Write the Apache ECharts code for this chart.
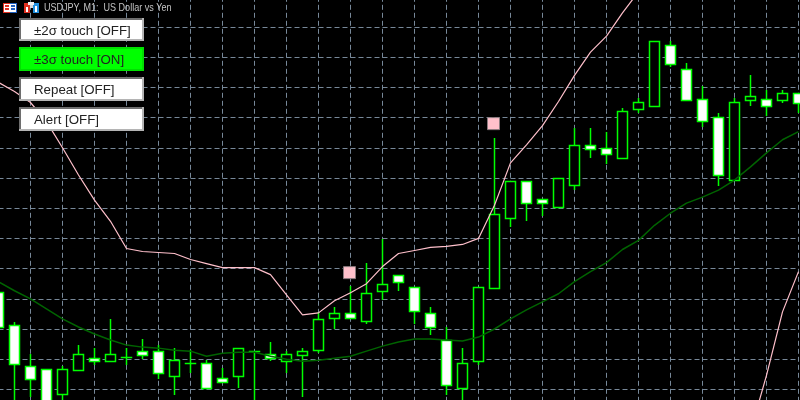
<!DOCTYPE html>
<html>
<head>
<meta charset="utf-8">
<title>USDJPY M1</title>
<style>
  html, body { margin: 0; padding: 0; background: #000; }
  #main { width: 800px; height: 400px; }
</style>
<script src="https://cdn.jsdelivr.net/npm/echarts@6/dist/echarts.min.js"></script>
</head>
<body>
<div id="main"></div>
<script>
const opens = [108.126,108.093,108.053,108.050,108.025,108.049,108.061,108.058,108.062,108.068,
  108.068,108.043,108.056,108.056,108.041,108.043,108.068,108.065,108.058,108.064,
  108.069,108.100,108.105,108.097,108.127,108.143,108.131,108.105,108.079,108.031,
  108.058,108.130,108.200,108.237,108.219,108.211,108.233,108.272,108.269,108.259,
  108.308,108.311,108.372,108.348,108.318,108.300,108.238,108.317,108.318,108.317,108.324];
const closes = [108.091,108.055,108.040,108.010,108.050,108.065,108.058,108.065,108.062,108.064,
  108.046,108.059,108.056,108.031,108.037,108.071,108.068,108.061,108.065,108.068,
  108.099,108.105,108.100,108.125,108.134,108.136,108.107,108.091,108.034,108.056,
  108.131,108.204,108.237,108.215,108.215,108.240,108.272,108.268,108.263,108.306,
  108.315,108.376,108.353,108.317,108.296,108.242,108.315,108.321,108.311,108.324,108.314];
const highs = [108.126,108.096,108.065,108.050,108.053,108.074,108.071,108.099,108.071,108.080,
  108.074,108.071,108.069,108.059,108.051,108.071,108.068,108.077,108.068,108.071,
  108.106,108.111,108.132,108.155,108.179,108.143,108.131,108.111,108.091,108.071,
  108.131,108.279,108.237,108.237,108.219,108.240,108.289,108.289,108.285,108.309,
  108.319,108.376,108.376,108.354,108.331,108.304,108.319,108.342,108.327,108.327,108.324];
const lows = [108.091,108.015,108.023,108.010,108.017,108.049,108.055,108.058,108.055,108.061,
  108.041,108.025,108.047,108.031,108.037,108.032,108.015,108.059,108.047,108.023,
  108.067,108.090,108.100,108.095,108.119,108.128,108.095,108.085,108.025,108.017,
  108.055,108.130,108.192,108.198,108.203,108.211,108.229,108.260,108.254,108.259,
  108.305,108.311,108.351,108.317,108.291,108.233,108.238,108.312,108.302,108.315,108.305];

// +3 sigma band, leaves the top of the window after bar 40
const upperBand = [108.335,108.326,108.315,108.296,108.270,108.243,108.218,108.197,108.170,108.167,
  108.166,108.165,108.159,108.155,108.151,108.151,108.151,108.144,108.124,108.104,
  108.106,108.118,108.126,108.135,108.152,108.165,108.168,108.171,108.172,108.174,
  108.180,108.213,108.255,108.273,108.292,108.316,108.342,108.365,108.381,108.404,
  108.425,null,null,null,null,null,null,null,null,null,null];
// -3 sigma band, only on screen for the last bars
const lowerBand = [null,null,null,null,null,null,null,null,null,null,
  null,null,null,null,null,null,null,null,null,null,
  null,null,null,null,null,null,null,null,null,null,
  null,null,null,null,null,null,null,null,null,null,
  null,null,null,null,null,null,null,107.988,108.044,108.107,108.147];
const middleLine = [108.137,108.128,108.120,108.110,108.100,108.092,108.085,108.079,108.074,108.072,
  108.071,108.069,108.068,108.063,108.066,108.067,108.067,108.063,108.060,108.058,
  108.059,108.061,108.063,108.068,108.073,108.077,108.080,108.080,108.079,108.078,
  108.082,108.090,108.100,108.109,108.117,108.125,108.137,108.147,108.156,108.169,
  108.178,108.193,108.205,108.215,108.221,108.228,108.238,108.251,108.265,108.278,108.286];

const touchBars = [22, 31];
const touchPrices = [108.146, 108.294];

const buttonLabels = ["±2σ touch [OFF]", "±3σ touch [ON]", "Repeat [OFF]", "Alert [OFF]"];
const buttonOn = [false, true, false, false];
const chartTitle = "USDJPY, M1:  US Dollar vs Yen";

const barIndex = opens.map((v, i) => i);
const candles = opens.map((o, i) => [i, o, closes[i], lows[i], highs[i]]);

// filled rects so the bars stay on the pixel grid, lines a bit over 1px like the terminal shot
function renderCandle(params, api) {
  const i = api.value(0);
  const open = api.value(1);
  const close = api.value(2);
  const x = Math.floor(api.coord([i, open])[0]);
  const yOpen = Math.floor(api.coord([i, open])[1]);
  const yClose = Math.floor(api.coord([i, close])[1]);
  const yLow = Math.floor(api.coord([i, api.value(3)])[1]);
  const yHigh = Math.floor(api.coord([i, api.value(4)])[1]);
  const top = Math.min(yOpen, yClose);
  const height = Math.abs(yOpen - yClose);
  const green = { fill: "#00ff00" };
  const children = [
    { type: "rect", shape: { x: x - 0.25, y: yHigh, width: 1.5, height: yLow - yHigh + 1 }, style: green }
  ];
  if (height == 0) {
    // doji is just a flat dash
    children.push({ type: "rect", shape: { x: x - 5.25, y: top - 0.25, width: 11.5, height: 1.5 }, style: green });
  } else {
    children.push({ type: "rect", shape: { x: x - 5.25, y: top - 0.25, width: 11.5, height: height + 1.5 }, style: green });
    children.push({
      type: "rect",
      shape: { x: x - 3.75, y: top + 1.25, width: 8.5, height: height - 1.5 },
      style: { fill: close > open ? "#000000" : "#ffffff" }
    });
  }
  return { type: "group", children: children };
}

function makeButton(label, i) {
  const top = [18, 47, 77, 107][i];
  const h = i == 0 ? 23 : 24;
  const on = buttonOn[i];
  const dark = on ? "#00e000" : "#6e6e6e";
  const light = on ? "#00e000" : "#b4b4b4";
  return {
    type: "group",
    silent: true,
    children: [
      { type: "rect", z: 100, shape: { x: 19, y: top, width: 125, height: h }, style: { fill: light } },
      { type: "rect", z: 101, shape: { x: 19, y: top, width: 123, height: h - 2 }, style: { fill: dark } },
      { type: "rect", z: 102, shape: { x: 21, y: top + 2, width: 121, height: h - 4 }, style: { fill: on ? "#00ff00" : "#ffffff" } },
      {
        type: "text",
        z: 103,
        style: {
          x: 34, y: top + 13, text: label, fill: "#222222",
          font: "13.3px 'Liberation Sans'", textVerticalAlign: "middle"
        }
      }
    ]
  };
}

function makeIcons() {
  const parts = [
    // list icon
    [3, 3, 14, 10, "#e03020"], [4, 4, 6, 8, "#ffffff"], [10, 3, 7, 10, "#2060c0"], [10, 4, 6, 8, "#ffffff"],
    [5, 5, 4, 2, "#e03020"], [5, 8, 4, 2, "#e03020"], [11, 5, 4, 2, "#2060c0"], [11, 8, 4, 2, "#2060c0"],
    // chart icon
    [24, 3, 6, 10, "#e03020"], [33, 3, 6, 10, "#2090e0"], [30, 3, 3, 5, "#d8d8d8"], [28, 2, 6, 3, "#f0f0f0"],
    [26, 7, 2, 5, "#ffffff"], [35, 6, 2, 6, "#ffffff"]
  ];
  return parts.map((p, i) => ({
    type: "rect", silent: true, z: 100 + i,
    shape: { x: p[0], y: p[1], width: p[2], height: p[3] },
    style: { fill: p[4] }
  }));
}

const gridStyle = { color: "#778899", width: 1, type: [5, 3] };

const myChart = echarts.init(document.getElementById("main"));
myChart.setOption({
  animation: false,
  backgroundColor: "#000000",
  // grid runs past the window so the price lines land where the terminal has them
  grid: { left: -1.5, top: -3.2, width: 800, height: 422.8, outerBoundsMode: "none" },
  xAxis: {
    type: "category",
    data: barIndex,
    boundaryGap: false,
    axisLine: { show: false },
    axisTick: { show: false },
    axisLabel: { show: false },
    splitLine: { show: true, interval: 1, lineStyle: gridStyle }
  },
  yAxis: {
    type: "value",
    min: 108,
    max: 108.42,
    interval: 0.03,
    axisLine: { show: false },
    axisTick: { show: false },
    axisLabel: { show: false },
    splitLine: { show: true, lineStyle: gridStyle }
  },
  series: [
    {
      type: "custom",
      data: candles,
      renderItem: renderCandle,
      encode: { x: 0, y: [1, 2, 3, 4] },
      clip: false,
      z: 2
    },
    {
      type: "line",
      data: middleLine,
      symbol: "none",
      z: 3,
      lineStyle: { color: "#006400", width: 1.5 }
    },
    {
      type: "line",
      data: upperBand,
      symbol: "none",
      z: 4,
      lineStyle: { color: "#ffc0cb", width: 1.2 }
    },
    {
      type: "line",
      data: lowerBand,
      symbol: "none",
      z: 4,
      lineStyle: { color: "#ffc0cb", width: 1.2 }
    },
    {
      type: "scatter",
      data: touchBars.map((b, i) => [b, touchPrices[i]]),
      symbol: "rect",
      symbolSize: 12,
      symbolOffset: [-1, 0],
      z: 5,
      itemStyle: { color: "#ffc0cb", borderColor: "#8a7a7e", borderWidth: 1, opacity: 1 }
    }
  ],
  graphic: makeIcons().concat(buttonLabels.map(makeButton)).concat([
    {
      type: "text",
      silent: true,
      z: 120,
      x: 44,
      y: 8,
      scaleX: 0.86,
      style: {
        x: 0, y: 0, text: chartTitle, fill: "#c4c4c4",
        font: "10.5px 'Liberation Sans'", textVerticalAlign: "middle"
      }
    }
  ])
});
</script>
</body>
</html>
